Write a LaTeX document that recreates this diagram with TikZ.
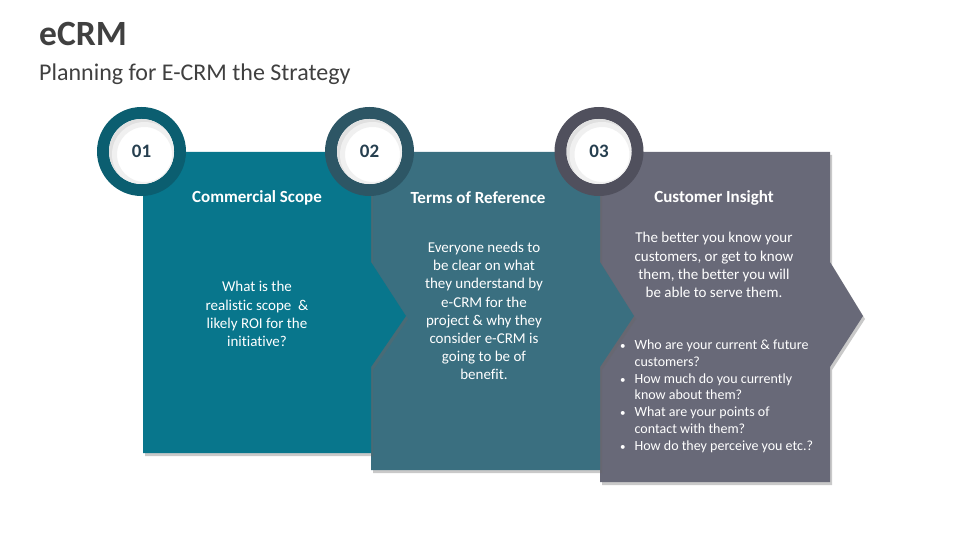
\documentclass[tikz,border=0pt]{standalone}
\usepackage{fontspec}
\setmainfont{Carlito}[Ligatures=NoCommon]
\usetikzlibrary{shadows}
\definecolor{boxA}{HTML}{08768C}
\definecolor{boxB}{HTML}{3A6F80}
\definecolor{boxC}{HTML}{686978}
\definecolor{ringA}{HTML}{0B5E70}
\definecolor{ringB}{HTML}{2D5665}
\definecolor{ringC}{HTML}{50505D}
\definecolor{numtext}{HTML}{263F4F}
\definecolor{titlegray}{HTML}{404040}
\tikzset{
  panel/.style={drop shadow={shadow xshift=2pt,shadow yshift=-3pt,opacity=0.35,fill=black!60}},
  headtxt/.style={text=white,font=\fontsize{17}{20}\selectfont\bfseries,inner sep=0pt},
  bodytxt/.style={text=white,font=\fontsize{15}{18.2}\selectfont,align=center,inner sep=0pt},
  numtxt/.style={text=numtext,font=\fontsize{19}{22}\selectfont\bfseries,inner sep=0pt},
}
\newcommand{\ringmark}[4]{%
  \fill[#2] (#1) circle (44.5);
  \fill[white] (#1) circle (32.5);
  \begin{scope}
    \clip (#1) circle (32.5);
    \draw[black!12,line width=5pt] ([shift={(3,3)}]#1) circle (34);
    \draw[black!6,line width=5pt] ([shift={(3,3)}]#1) circle (30);
  \end{scope}
  \node[numtxt] (#3) at (#1) {#4};
}
\begin{document}
\begin{tikzpicture}[x=1pt,y=-1pt]
\useasboundingbox (0,0) rectangle (960,540);
\fill[white] (0,0) rectangle (960,540);

% title
\node[anchor=base west,inner sep=0pt,text=titlegray,font=\fontsize{35.5}{40}\selectfont\bfseries] (title) at (39,46) {eCRM};
\node[anchor=base west,inner sep=0pt,text=titlegray,font=\fontsize{24}{28}\selectfont] (subtitle) at (39,81) {Planning for E-CRM the Strategy};

% panels (back to front)
\fill[boxC,panel] (600,152) -- (830,152) -- (830,262) -- (863,316) -- (830,367) -- (830,482) -- (600,482) -- cycle;
\fill[boxB,panel] (371,152) -- (600,152) -- (600,262) -- (634,316) -- (600,367) -- (600,470) -- (371,470) -- cycle;
\fill[boxA,panel] (143,152) -- (371,152) -- (371,262) -- (406,316) -- (371,367) -- (371,453) -- (143,453) -- cycle;

% rings
\coordinate (cA) at (141.5,151.5);
\coordinate (cB) at (369.5,151.5);
\coordinate (cC) at (599,151.5);
\ringmark{cA}{ringA}{nA}{01}
\ringmark{cB}{ringB}{nB}{02}
\ringmark{cC}{ringC}{nC}{03}

% headings
\node[headtxt] (hA) at (257,198) {Commercial Scope};
\node[headtxt] (hB) at (478,198) {Terms of Reference};
\node[headtxt] (hC) at (714,198) {Customer Insight};

% bodies
\node[bodytxt] (tA) at (257,314) {What is the\\realistic scope\ \ \&\\likely ROI for the\\initiative?};
\node[bodytxt] (tB) at (484,311) {Everyone needs to\\be clear on what\\they understand by\\e-CRM for the\\project \& why they\\consider e-CRM is\\going to be of\\benefit.};
\node[bodytxt] (tC) at (714,265) {The better you know your\\customers, or get to know\\them, the better you will\\be able to serve them.};
\node[anchor=west,inner sep=0pt,text=white,font=\fontsize{14}{16.8}\selectfont] (lC) at (620,396.5) {%
\begin{tabular}{@{}l@{\hspace{9pt}}l@{}}
{\fontsize{11}{16.8}\selectfont\textbullet} & Who are your current \& future\\
 & customers?\\
{\fontsize{11}{16.8}\selectfont\textbullet} & How much do you currently\\
 & know about them?\\
{\fontsize{11}{16.8}\selectfont\textbullet} & What are your points of\\
 & contact with them?\\
{\fontsize{11}{16.8}\selectfont\textbullet} & How do they perceive you etc.?
\end{tabular}};
\end{tikzpicture}
\end{document}
